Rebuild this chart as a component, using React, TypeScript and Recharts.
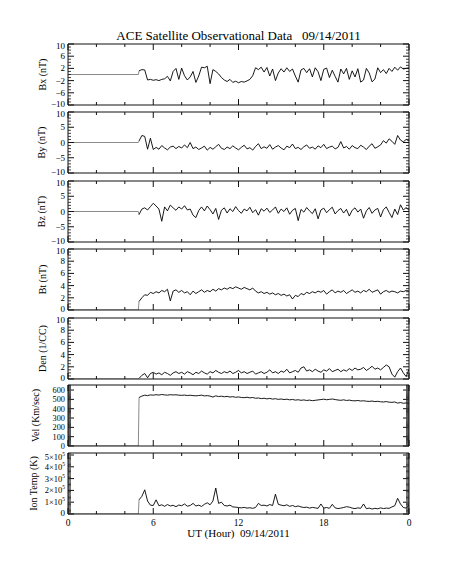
import React from 'react';
import { LineChart, Line, XAxis, YAxis } from 'recharts';

// samples every 0.2 h from 05:00 to 24:00 UT; before that the instrument shows no data
const FIRST_HOUR = 5.0;
const HOUR_STEP = 0.2;
const GAP_HOURS = [0, 4.95];

const bxValues = [
  1.2, 1.6, 1.5, -1.8, -1.6, -1.9, -1.7, -2.0, -1.6, -1.4,
  -0.6, -2.1, 1.0, 2.0, -1.6, 2.1, -0.4, -1.8, -0.8, 1.0,
  -2.6, -0.5, 2.4, 2.2, 2.7, -3.0, 1.6, 1.0, 0.2, -1.0,
  -1.8, -2.3, -1.6, -2.6, -2.2, -2.7, -2.3, -2.5, -2.1, -1.6,
  -0.4, 2.2, 1.6, 2.4, 0.8, 2.3, -0.5, 1.8, -2.0, 0.5,
  1.9, 0.8, 2.2, 1.0, 1.8, -0.5, -2.5, 1.5, 2.0, 0.6,
  1.9, -0.8, 2.2, 0.9, -2.0, 1.7, 2.1, -1.0, 1.4, -0.6,
  -2.5, 1.8, 0.2, 2.0, -1.6, 1.2, -0.8, 1.9, -2.5, -1.8,
  2.0, 0.5, -2.4, -1.5, 2.2, 0.6, 1.6, 0.3, 2.0, 1.0,
  2.4, 1.4, 2.5, 1.8, 2.0, 2.2,
];

const byValues = [
  0.5, 2.3, 2.0, -2.2, 1.4, -2.3, -1.6, -2.2, -1.0, -1.8,
  -2.4, -1.5, -1.2, -2.0, -1.3, -1.8, -0.8, -1.7, 0.0, -2.0,
  -1.5, -2.3, -1.8, -1.2, -2.5, -1.6, -2.2, -1.4, -0.6, -1.9,
  -2.3, -1.5, -2.0, -1.1, -1.8, -2.4, -1.6, -0.9, -2.1, -1.7,
  -2.5, -1.3, -0.4, -2.0, -1.4, -1.9, -0.7, -2.2, -1.5, -1.0,
  -1.8, -2.4, -1.2, -1.7, -0.5, -2.0, -1.6, -2.3, -1.4, -0.8,
  -1.9, -1.5, -2.2, -1.1, -1.7, -0.6, -2.0, -1.5, -1.2, -2.1,
  -1.6, 0.3, -1.8, -1.3, -2.2, -1.0, -1.7, -2.0, -0.9, -1.5,
  -2.3, -1.2, -0.4, -1.9, -1.4, -0.8, 0.6, -0.2, 1.2, 0.4,
  -0.6, 2.3, 0.8, 0.2, 1.0, 0.5,
];

const bzValues = [
  -1.0, 0.8, 1.2, 0.5, 1.6, 2.7, 1.8, 0.8, -3.2, 1.5,
  0.2, 2.1, 1.2, 0.4, 1.5, 0.8, 1.9, 0.5, 0.8, -1.2,
  -2.0, 0.3, 1.5, 0.2, 1.8, 0.6, -0.8, 1.0, -2.6, 0.4,
  1.2, -0.5, 0.9, 0.0, 1.6, 0.3, -0.6, 0.8, 0.2, 1.4,
  -0.4, 0.6, -1.2, 0.9, 0.1, 1.1, -0.3, 0.5, 1.5, -0.6,
  0.8, 0.0, 1.2, -0.9, 0.4, 1.0, -3.0, 0.7, -0.2, 1.3,
  0.2, -0.7, 0.9, -2.4, 0.5, 1.1, -0.4, 0.6, 1.4, -0.8,
  0.3, 1.0, -0.5, 0.7, -1.5, 0.4, 1.2, -0.2, 0.8, -2.2,
  0.2, 1.3, -0.6, 0.5, 1.0, -1.8, 0.6, 1.5, -0.3, -2.0,
  0.8, -1.0, 2.2, 0.5, 1.3, 0.4,
];

const btValues = [
  1.4, 2.0, 2.5, 2.4, 2.9, 2.7, 3.0, 2.8, 3.2, 3.0,
  3.4, 1.5, 3.1, 3.3, 2.9, 3.2, 2.8, 3.0, 2.5, 3.1,
  2.7, 3.0, 3.3, 2.9, 3.2, 3.0, 3.4, 3.1, 3.5, 3.3,
  3.6, 3.4, 3.7, 3.5, 3.8, 3.6, 3.4, 3.7, 3.5, 3.3,
  3.6, 3.1, 2.8, 3.0, 2.7, 2.9, 2.6, 2.8, 2.5, 2.7,
  2.4, 2.6, 2.3, 2.5, 1.8, 2.4, 2.2, 2.7, 2.5, 2.9,
  2.7, 3.0, 2.8, 3.1, 2.9, 3.2, 2.6, 3.0, 3.3, 2.8,
  3.1, 2.9, 3.2, 2.7, 3.0, 3.3, 2.9, 3.1, 2.8, 3.2,
  3.0, 3.4, 2.9, 3.1, 3.3, 2.6, 3.0, 3.2, 2.9, 3.1,
  3.0, 2.8, 3.1, 3.0, 3.2, 3.1,
];

const denValues = [
  0.1, 0.6, 0.9, 0.2, 0.9, 1.1, 0.8, 1.0, 0.7, 1.1,
  0.9, 0.6, 1.0, 1.2, 0.9, 1.1, 0.8, 1.2, 1.0, 0.7,
  1.1, 0.9, 1.3, 1.0, 0.8, 1.2, 1.0, 1.4, 1.1, 0.9,
  1.2, 1.0, 1.3, 0.9, 1.1, 1.4, 1.0, 1.2, 0.9, 1.1,
  1.3, 0.8, 1.0, 1.2, 0.9, 1.1, 1.5, 1.0, 1.2, 0.9,
  1.3, 1.1, 1.6, 1.0, 1.2, 1.4, 1.1, 1.8, 2.0, 1.3,
  1.5, 1.2, 1.6, 1.3, 1.1, 1.5, 1.3, 1.7, 1.2, 1.4,
  1.6, 1.2, 1.5, 1.3, 1.7, 1.4, 1.8, 1.5, 1.6, 1.9,
  1.4, 1.7, 2.1, 1.6, 1.8, 1.5, 1.9, 2.3, 2.0, 0.8,
  0.3, 1.2, 1.8, 1.0, 0.4, 1.6,
];

const velValues = [
  520, 535, 545, 540, 548, 545, 550, 546, 552, 548,
  545, 550, 547, 549, 545, 543, 546, 541, 544, 540,
  538, 541, 545, 537, 540, 535, 525, 538, 530, 534,
  528, 532, 525, 529, 522, 526, 520, 518, 523, 516,
  520, 512, 515, 508, 512, 505, 510, 503, 507, 500,
  504, 498, 502, 495, 499, 492, 496, 490, 494, 488,
  492, 486, 490, 494, 498, 502, 496, 500, 504, 498,
  493, 490, 495, 488, 492, 486, 484, 488, 482, 485,
  480, 478, 482, 476, 479, 474, 472, 476, 470, 468,
  472, 460, 466, 458, 462, 456,
];

const tempValues = [
  120000, 150000, 205000, 110000, 75000, 72000, 120000, 70000, 78000, 65000,
  80000, 68000, 74000, 62000, 76000, 70000, 85000, 66000, 72000, 90000,
  68000, 75000, 64000, 82000, 95000, 78000, 110000, 220000, 90000, 100000,
  72000, 68000, 75000, 60000, 58000, 55000, 52000, 56000, 50000, 53000,
  48000, 55000, 90000, 72000, 75000, 68000, 80000, 72000, 168000, 82000,
  75000, 70000, 78000, 65000, 72000, 62000, 68000, 60000, 55000, 58000,
  50000, 56000, 52000, 48000, 85000, 50000, 55000, 48000, 82000, 52000,
  46000, 50000, 55000, 62000, 58000, 50000, 46000, 52000, 48000, 85000,
  45000, 50000, 42000, 48000, 44000, 52000, 46000, 50000, 48000, 60000,
  70000, 133000, 85000, 55000, 50000, 72000,
];

const X_TICKS = [0, 2, 4, 6, 8, 10, 12, 14, 16, 18, 20, 22, 24];
const X_MAJOR = [0, 6, 12, 18, 24];
const X_TICK_LABELS = ['0', '6', '12', '18', '0'];

const TITLE = 'ACE Satellite Observational Data   09/14/2011';
const X_TITLE = 'UT (Hour)  09/14/2011';

const FONT = '"Liberation Serif", "DejaVu Serif", serif';
const W = 453;
const PLOT_LEFT = 68;
const PLOT_RIGHT = 409;
const PANEL_H = 61;
const PANEL_TOPS = [44, 112, 180.5, 249, 317.5, 385, 453];
const PAD = 6;

interface Panel {
  key: string;
  label: string;
  values: number[];
  domain: [number, number];
  majors: number[];
  minorStep: number;
  labelX: number;
  sci?: boolean;
  tickFont?: number;
  lowShift?: number;
}

const PANELS: Panel[] = [
  { key: 'bx', label: 'Bx (nT)', values: bxValues, domain: [-10, 10], majors: [-10, -6, -2, 2, 6, 10], minorStep: 1, labelX: 42 },
  { key: 'by', label: 'By (nT)', values: byValues, domain: [-10, 10], majors: [-10, -5, 0, 5, 10], minorStep: 1, labelX: 41 },
  { key: 'bz', label: 'Bz (nT)', values: bzValues, domain: [-10, 10], majors: [-10, -5, 0, 5, 10], minorStep: 1, labelX: 41 },
  { key: 'bt', label: 'Bt (nT)', values: btValues, domain: [0, 10], majors: [0, 2, 4, 6, 8, 10], minorStep: 0.5, labelX: 42 },
  { key: 'den', label: 'Den (1/CC)', values: denValues, domain: [0, 10], majors: [0, 2, 4, 6, 8, 10], minorStep: 0.5, labelX: 42 },
  { key: 'vel', label: 'Vel (Km/sec)', values: velValues, domain: [0, 654], majors: [0, 100, 200, 300, 400, 500, 600], minorStep: 10, labelX: 35, tickFont: 8.3, lowShift: 3 },
  { key: 'temp', label: 'Ion Temp (K)', values: tempValues, domain: [0, 517000], majors: [0, 100000, 200000, 300000, 400000, 500000], minorStep: 10000, labelX: 33, sci: true },
];

const buildRows = (values: number[]) => {
  const rows: { h: number; gap?: number; v?: number }[] = GAP_HOURS.map((h) => ({ h, gap: 0 }));
  values.forEach((v, i) => {
    const h = Math.round((FIRST_HOUR + i * HOUR_STEP) * 10) / 10;
    rows.push(i === 0 ? { h, gap: v, v } : { h, v });
  });
  return rows;
};

const minorTicks = (p: Panel) => {
  const n = Math.floor((p.domain[1] - p.domain[0]) / p.minorStep + 1e-6);
  const out: number[] = [];
  for (let i = 0; i <= n; i++) out.push(Math.round((p.domain[0] + i * p.minorStep) * 1000) / 1000);
  return out;
};

const isMajor = (v: number, majors: number[]) => majors.some((m) => Math.abs(m - v) < 1e-6);

// labels sitting on the frame corners are nudged inwards so neighbouring panels don't collide
const labelShift = (p: Panel, v: number) => {
  if (v === p.domain[1]) return 5;
  if (v === p.domain[0]) return p.lowShift ?? 1.5;
  if (p.sci && v === 500000) return 4.5;
  return 3;
};

const YTickLabel = ({ x, y, v, p }: { x: number; y: number; v: number; p: Panel }) => {
  const by = y + labelShift(p, v);
  if (p.sci && v !== 0) {
    return (
      <text x={x} y={by} textAnchor="end" fontSize={8.5} fontFamily={FONT} fill="#000">
        {`${v / 100000}×10`}
        <tspan dy={-4} fontSize={5.5}>5</tspan>
      </text>
    );
  }
  return (
    <text x={x} y={by} textAnchor="end" fontSize={p.tickFont ?? 9} fontFamily={FONT} fill="#000">
      {String(v).replace('-', '−')}
    </text>
  );
};

const yTick = (p: Panel, side: 'left' | 'right') => (props: any) => {
  const { x, y, payload } = props;
  const v = payload.value as number;
  const major = isMajor(v, p.majors);
  const len = major ? 6 : 3;
  const dir = side === 'left' ? 1 : -1;
  return (
    <g>
      <line x1={x} y1={y} x2={x + dir * len} y2={y} stroke="#111" strokeWidth={major ? 1 : 0.8} />
      {side === 'left' && major && <YTickLabel x={x - 3} y={y} v={v} p={p} />}
    </g>
  );
};

const xTick = (side: 'top' | 'bottom', showLabel: boolean) => (props: any) => {
  const { x, y, payload } = props;
  const v = payload.value as number;
  const mi = X_MAJOR.indexOf(v);
  const len = mi >= 0 ? 6 : 3;
  const dir = side === 'bottom' ? -1 : 1;
  return (
    <g>
      <line x1={x} y1={y} x2={x} y2={y + dir * len} stroke="#111" />
      {showLabel && mi >= 0 && (
        <text x={x} y={y + 12} textAnchor="middle" fontSize={9.5} fontFamily={FONT} fill="#000">
          {X_TICK_LABELS[mi]}
        </text>
      )}
    </g>
  );
};

const PanelChart = ({ p, index, last }: { p: Panel; index: number; last: boolean }) => {
  const rows = buildRows(p.values);
  const top = PANEL_TOPS[index];
  const bottomPad = last ? 30 : PAD;
  return (
    <div style={{ position: 'absolute', left: 0, top: top - PAD }}>
      <LineChart
        width={W}
        height={PANEL_H + PAD + bottomPad}
        data={rows}
        margin={{ top: PAD - 1, right: W - PLOT_RIGHT - 1, bottom: bottomPad - 1, left: PLOT_LEFT - 1 }}
      >
        <XAxis
          xAxisId="b"
          dataKey="h"
          type="number"
          domain={[0, 24]}
          allowDataOverflow
          ticks={X_TICKS}
          interval={0}
          height={1}
          tickSize={0}
          tickMargin={0}
          tickLine={false}
          axisLine={{ stroke: '#111' }}
          tick={xTick('bottom', last)}
        />
        <XAxis
          xAxisId="t"
          orientation="top"
          dataKey="h"
          type="number"
          domain={[0, 24]}
          allowDataOverflow
          ticks={X_TICKS}
          interval={0}
          height={1}
          tickSize={0}
          tickMargin={0}
          tickLine={false}
          axisLine={{ stroke: '#111' }}
          tick={xTick('top', false)}
        />
        <YAxis
          yAxisId="l"
          type="number"
          domain={p.domain}
          allowDataOverflow
          ticks={minorTicks(p)}
          interval={0}
          width={1}
          tickSize={0}
          tickMargin={0}
          tickLine={false}
          axisLine={{ stroke: '#111' }}
          tick={yTick(p, 'left')}
          label={(lp: any) => {
            const vb = lp.viewBox || {};
            const cy = vb.height ? vb.y + vb.height / 2 : PAD + PANEL_H / 2;
            return (
              <text
                x={p.labelX}
                y={cy}
                transform={`rotate(-90 ${p.labelX} ${cy})`}
                textAnchor="middle"
                dominantBaseline="central"
                fontSize={10}
                fontFamily={FONT}
                fill="#000"
              >
                {p.label}
              </text>
            );
          }}
        />
        <YAxis
          yAxisId="r"
          orientation="right"
          type="number"
          domain={p.domain}
          allowDataOverflow
          ticks={minorTicks(p)}
          interval={0}
          width={1}
          tickSize={0}
          tickMargin={0}
          tickLine={false}
          axisLine={{ stroke: '#111' }}
          tick={yTick(p, 'right')}
        />
        <Line
          xAxisId="b"
          yAxisId="l"
          dataKey="gap"
          stroke="#8a8a8a"
          strokeWidth={1}
          dot={false}
          isAnimationActive={false}
        />
        <Line
          xAxisId="b"
          yAxisId="l"
          dataKey="v"
          stroke="#000"
          strokeWidth={0.9}
          dot={false}
          isAnimationActive={false}
        />
      </LineChart>
      {last && (
        <div
          style={{
            position: 'absolute',
            left: PLOT_LEFT,
            width: PLOT_RIGHT - PLOT_LEFT,
            top: PAD + PANEL_H + 13,
            textAlign: 'center',
            fontFamily: FONT,
            fontSize: 11,
            whiteSpace: 'pre',
          }}
        >
          {X_TITLE}
        </div>
      )}
    </div>
  );
};

export default function App() {
  return (
    <div style={{ position: 'absolute', left: 0, top: 0, width: W, height: 566, background: '#fff' }}>
      <div
        style={{
          position: 'absolute',
          left: PLOT_LEFT,
          width: PLOT_RIGHT - PLOT_LEFT,
          top: 28,
          textAlign: 'center',
          fontFamily: FONT,
          fontSize: 13,
          whiteSpace: 'pre',
        }}
      >
        {TITLE}
      </div>
      {PANELS.map((p, i) => (
        <PanelChart key={p.key} p={p} index={i} last={i === PANELS.length - 1} />
      ))}
    </div>
  );
}
